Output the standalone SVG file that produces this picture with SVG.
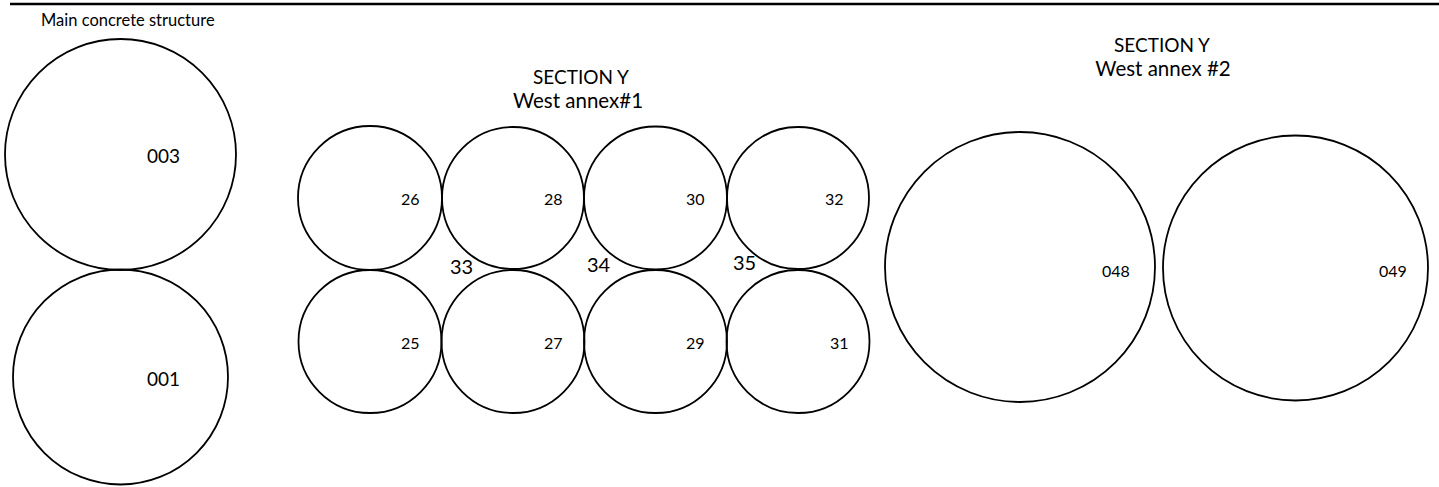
<svg xmlns="http://www.w3.org/2000/svg" width="1439" height="487" viewBox="0 0 1439 487">
<style>
.c{fill:none;stroke:#000;stroke-width:1.8}
.t{font-family:Lato,"Open Sans",sans-serif;fill:#000}
.n{font-size:16px}
.b{font-size:19px}
.m{font-size:20px}
.h{font-size:19px;text-anchor:middle}
.w{font-size:20.5px;text-anchor:middle}
</style>
<rect width="1439" height="487" fill="#fff"/>
<line x1="10" y1="4" x2="1439" y2="4" stroke="#000" stroke-width="2.5"/>
<text class="t" x="41" y="26" font-size="16.5">Main concrete structure</text>
<text class="t h" x="581" y="84" font-size="20px">SECTION Y</text>
<text class="t w" x="578" y="108">West annex#1</text>
<text class="t h" x="1162" y="52">SECTION Y</text>
<text class="t w" x="1163" y="76">West annex #2</text>
<g id="n003"><circle class="c" cx="120.5" cy="154.5" r="115.5"/><text class="t b" x="147" y="163">003</text></g>
<g id="n001"><circle class="c" cx="120.5" cy="377" r="107.5"/><text class="t b" x="147" y="386">001</text></g>
<g id="n26"><circle class="c" cx="370" cy="198" r="72"/><text class="t n" x="401" y="205">26</text></g>
<g id="n28"><circle class="c" cx="513" cy="198" r="71"/><text class="t n" x="544" y="205">28</text></g>
<g id="n30"><circle class="c" cx="655.5" cy="198" r="71.5"/><text class="t n" x="686" y="205">30</text></g>
<g id="n32"><circle class="c" cx="798" cy="198" r="71"/><text class="t n" x="825" y="205">32</text></g>
<g id="n25"><circle class="c" cx="370" cy="341.5" r="71.5"/><text class="t n" x="401" y="349">25</text></g>
<g id="n27"><circle class="c" cx="513" cy="341.5" r="71.5"/><text class="t n" x="544" y="349">27</text></g>
<g id="n29"><circle class="c" cx="655.5" cy="341.5" r="71.5"/><text class="t n" x="686" y="349">29</text></g>
<g id="n31"><circle class="c" cx="798" cy="341.5" r="71.5"/><text class="t n" x="830" y="349">31</text></g>
<g id="n33"><text class="t m" x="450" y="274">33</text></g>
<g id="n34"><text class="t m" x="587" y="272">34</text></g>
<g id="n35"><text class="t m" x="733" y="270">35</text></g>
<g id="n048"><circle class="c" cx="1020" cy="267" r="135"/><text class="t n" x="1102" y="277">048</text></g>
<g id="n049"><circle class="c" cx="1295.5" cy="268" r="132.5"/><text class="t n" x="1379" y="277">049</text></g>
<g id="connectors"></g>
</svg>
